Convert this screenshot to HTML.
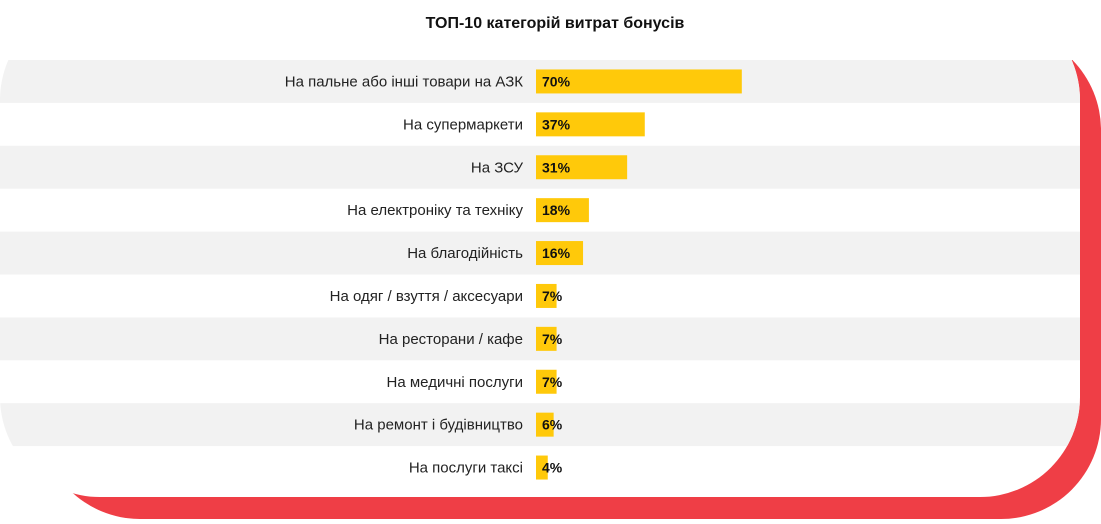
<!DOCTYPE html>
<html><head><meta charset="utf-8"><style>
body{margin:0;width:1101px;height:519px;overflow:hidden;background:#fff;font-family:"Liberation Sans",sans-serif}
</style></head><body>
<svg width="1101" height="519">
<defs>
<clipPath id="below"><rect x="0" y="60" width="1101" height="459"/></clipPath>
<clipPath id="card"><rect x="0" y="0" width="1080" height="497" rx="100"/></clipPath>
</defs>
<g clip-path="url(#below)">
<rect x="40" y="30" width="1061" height="489" rx="100" fill="#ef3e46"/>
<rect x="0" y="0" width="1080" height="497" rx="100" fill="#fff"/>
<g id="rows" clip-path="url(#card)"></g>
</g>
<text x="555" y="28" text-anchor="middle" font-size="16" font-weight="bold" fill="#111">ТОП-10 категорій витрат бонусів</text>
<g id="bars"></g>
</svg>
<script>
const categories=["На пальне або інші товари на АЗК","На супермаркети","На ЗСУ","На електроніку та техніку","На благодійність","На одяг / взуття / аксесуари","На ресторани / кафе","На медичні послуги","На ремонт і будівництво","На послуги таксі"];
const values=[70,37,31,18,16,7,7,7,6,4];
const NS="http://www.w3.org/2000/svg";
const x0=536,pxPer=2.94,top0=60,pitch=42.9,bh=24;
const xs=v=>v*pxPer;
const rows=document.getElementById('rows'),bars=document.getElementById('bars');
categories.forEach((c,i)=>{
 const y=top0+i*pitch;
 if(i%2===0){const r=document.createElementNS(NS,'rect');
 
 
 r.setAttribute('x',0);r.setAttribute('y',y);r.setAttribute('width',1080);r.setAttribute('height',pitch);r.setAttribute('fill','#f2f2f2');rows.appendChild(r);}
 const t=document.createElementNS(NS,'text');
 
 
 t.setAttribute('x',523);t.setAttribute('y',y+pitch/2+5);t.setAttribute('text-anchor','end');t.setAttribute('font-size','15');t.setAttribute('fill','#222');t.textContent=c;bars.appendChild(t);
 const b=document.createElementNS(NS,'rect');
 
 
 b.setAttribute('x',x0);b.setAttribute('y',y+pitch/2-bh/2);b.setAttribute('width',xs(values[i]));b.setAttribute('height',bh);b.setAttribute('fill','#ffc90a');bars.appendChild(b);
 const v=document.createElementNS(NS,'text');
 
 
 v.setAttribute('x',x0+6);v.setAttribute('y',y+pitch/2+5);v.setAttribute('font-size','14');v.setAttribute('font-weight','bold');v.setAttribute('fill','#111');v.textContent=values[i]+'%';bars.appendChild(v);
});
</script>
</body></html>
